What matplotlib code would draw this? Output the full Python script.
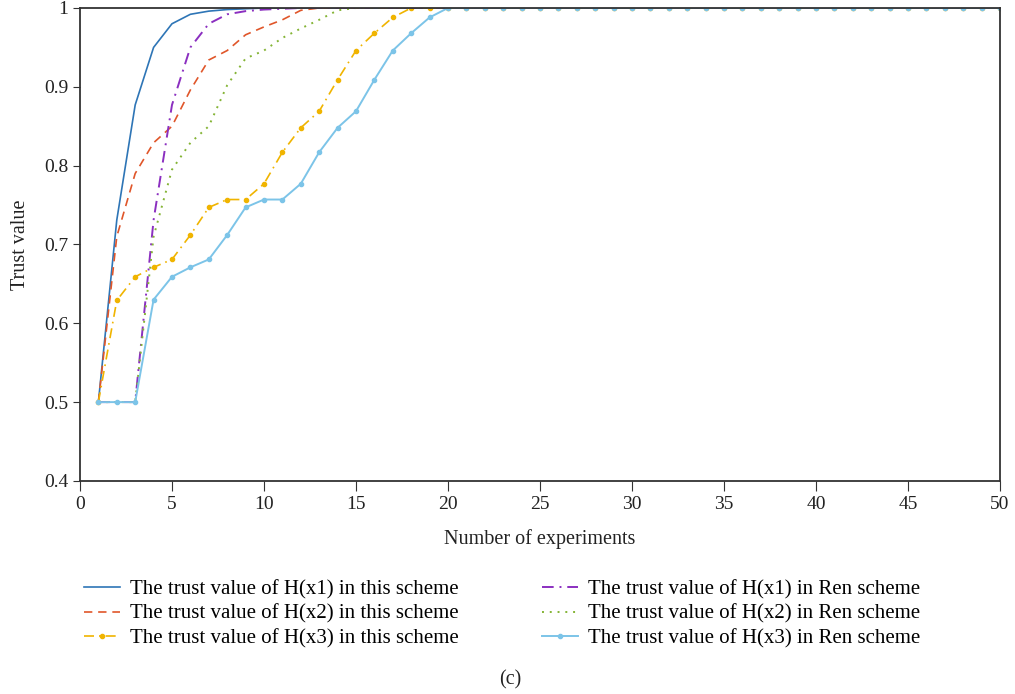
import matplotlib
matplotlib.use('Agg')
import matplotlib.pyplot as plt

# trust values, experiments 1..50
experiments = list(range(1, 51))

this_x1 = [0.500, 0.731, 0.877, 0.950, 0.980, 0.992, 0.996, 0.998, 0.999, 1.000,
           1.000, 1.000, 1.000, 1.000, 1.000, 1.000, 1.000, 1.000, 1.000, 1.000,
           1.000, 1.000, 1.000, 1.000, 1.000, 1.000, 1.000, 1.000, 1.000, 1.000,
           1.000, 1.000, 1.000, 1.000, 1.000, 1.000, 1.000, 1.000, 1.000, 1.000,
           1.000, 1.000, 1.000, 1.000, 1.000, 1.000, 1.000, 1.000, 1.000, 1.000]
this_x2 = [0.500, 0.710, 0.790, 0.829, 0.850, 0.896, 0.934, 0.946, 0.966, 0.976,
           0.985, 0.997, 1.000, 1.000, 1.000, 1.000, 1.000, 1.000, 1.000, 1.000,
           1.000, 1.000, 1.000, 1.000, 1.000, 1.000, 1.000, 1.000, 1.000, 1.000,
           1.000, 1.000, 1.000, 1.000, 1.000, 1.000, 1.000, 1.000, 1.000, 1.000,
           1.000, 1.000, 1.000, 1.000, 1.000, 1.000, 1.000, 1.000, 1.000, 1.000]
this_x3 = [0.500, 0.629, 0.659, 0.671, 0.681, 0.712, 0.747, 0.757, 0.757, 0.777,
           0.817, 0.848, 0.869, 0.909, 0.946, 0.968, 0.988, 1.000, 1.000, 1.000,
           1.000, 1.000, 1.000, 1.000, 1.000, 1.000, 1.000, 1.000, 1.000, 1.000,
           1.000, 1.000, 1.000, 1.000, 1.000, 1.000, 1.000, 1.000, 1.000, 1.000,
           1.000, 1.000, 1.000, 1.000, 1.000, 1.000, 1.000, 1.000, 1.000, 1.000]
ren_x1 = [0.500, 0.500, 0.500, 0.731, 0.877, 0.950, 0.980, 0.992, 0.996, 0.998,
          0.999, 1.000, 1.000, 1.000, 1.000, 1.000, 1.000, 1.000, 1.000, 1.000,
          1.000, 1.000, 1.000, 1.000, 1.000, 1.000, 1.000, 1.000, 1.000, 1.000,
          1.000, 1.000, 1.000, 1.000, 1.000, 1.000, 1.000, 1.000, 1.000, 1.000,
          1.000, 1.000, 1.000, 1.000, 1.000, 1.000, 1.000, 1.000, 1.000, 1.000]
ren_x2 = [0.500, 0.500, 0.500, 0.710, 0.795, 0.829, 0.850, 0.902, 0.936, 0.946,
          0.962, 0.974, 0.985, 0.997, 1.000, 1.000, 1.000, 1.000, 1.000, 1.000,
          1.000, 1.000, 1.000, 1.000, 1.000, 1.000, 1.000, 1.000, 1.000, 1.000,
          1.000, 1.000, 1.000, 1.000, 1.000, 1.000, 1.000, 1.000, 1.000, 1.000,
          1.000, 1.000, 1.000, 1.000, 1.000, 1.000, 1.000, 1.000, 1.000, 1.000]
ren_x3 = [0.500, 0.500, 0.500, 0.630, 0.659, 0.671, 0.681, 0.712, 0.747, 0.757,
          0.757, 0.777, 0.817, 0.848, 0.869, 0.909, 0.946, 0.968, 0.988, 1.000,
          1.000, 1.000, 1.000, 1.000, 1.000, 1.000, 1.000, 1.000, 1.000, 1.000,
          1.000, 1.000, 1.000, 1.000, 1.000, 1.000, 1.000, 1.000, 1.000, 1.000,
          1.000, 1.000, 1.000, 1.000, 1.000, 1.000, 1.000, 1.000, 1.000, 1.000]

labels = ['The trust value of H(x1) in this scheme',
          'The trust value of H(x2) in this scheme',
          'The trust value of H(x3) in this scheme',
          'The trust value of H(x1) in Ren scheme',
          'The trust value of H(x2) in Ren scheme',
          'The trust value of H(x3) in Ren scheme']

plt.rcParams['font.family'] = ['Liberation Serif', 'DejaVu Serif']

fig = plt.figure(figsize=(10.15, 6.94), dpi=100)
ax = fig.add_axes([0.0788, 0.307, 0.9064, 0.6815])

ax.plot(experiments, this_x1, color='#2E75B6', lw=1.2, label=labels[0])
ax.plot(experiments, this_x2, color='#E0562A', lw=1.2, ls=(0, (5, 3.5)), label=labels[1])
ax.plot(experiments, this_x3, color='#F0B400', lw=1.2, ls=(0, (6, 3, 1, 3)),
        marker='o', ms=3, label=labels[2])
ax.plot(experiments, ren_x1, color='#8B2FC0', lw=1.4, ls=(0, (6, 3, 1, 3)), label=labels[3])
ax.plot(experiments, ren_x2, color='#84B435', lw=1.4, ls=(0, (1, 3)), label=labels[4])
ax.plot(experiments, ren_x3, color='#7CC4E8', lw=1.4, marker='o', ms=3, label=labels[5])

ax.set_xlim(0, 50)
ax.set_ylim(0.4, 1.0)
ax.set_xticks(range(0, 51, 5))
ax.set_yticks([0.4, 0.5, 0.6, 0.7, 0.8, 0.9, 1.0])
ax.set_yticklabels(['0.4', '0.5', '0.6', '0.7', '0.8', '0.9', '1'])
ax.tick_params(direction='out', length=5, labelsize=14, colors='#333333', labelcolor='#222222')
ax.tick_params(axis='x', length=7)
for s in ax.spines.values():
    s.set_color('#333333')
    s.set_linewidth(1.3)

ax.set_xlabel('Number of experiments', fontsize=14.5, color='#222222', labelpad=12)
ax.set_ylabel('Trust value', fontsize=14.5, color='#222222', labelpad=10)

fig.legend(loc='upper center', bbox_to_anchor=(0.495, 0.192), ncol=2, frameon=False,
           fontsize=15, handlelength=1.7, handletextpad=0.5, columnspacing=4.0,
           labelspacing=0.25)

fig.text(0.503, 0.02, '(c)', ha='center', va='center', fontsize=14.5, color='#222222')

fig.savefig('out.png', dpi=100)
